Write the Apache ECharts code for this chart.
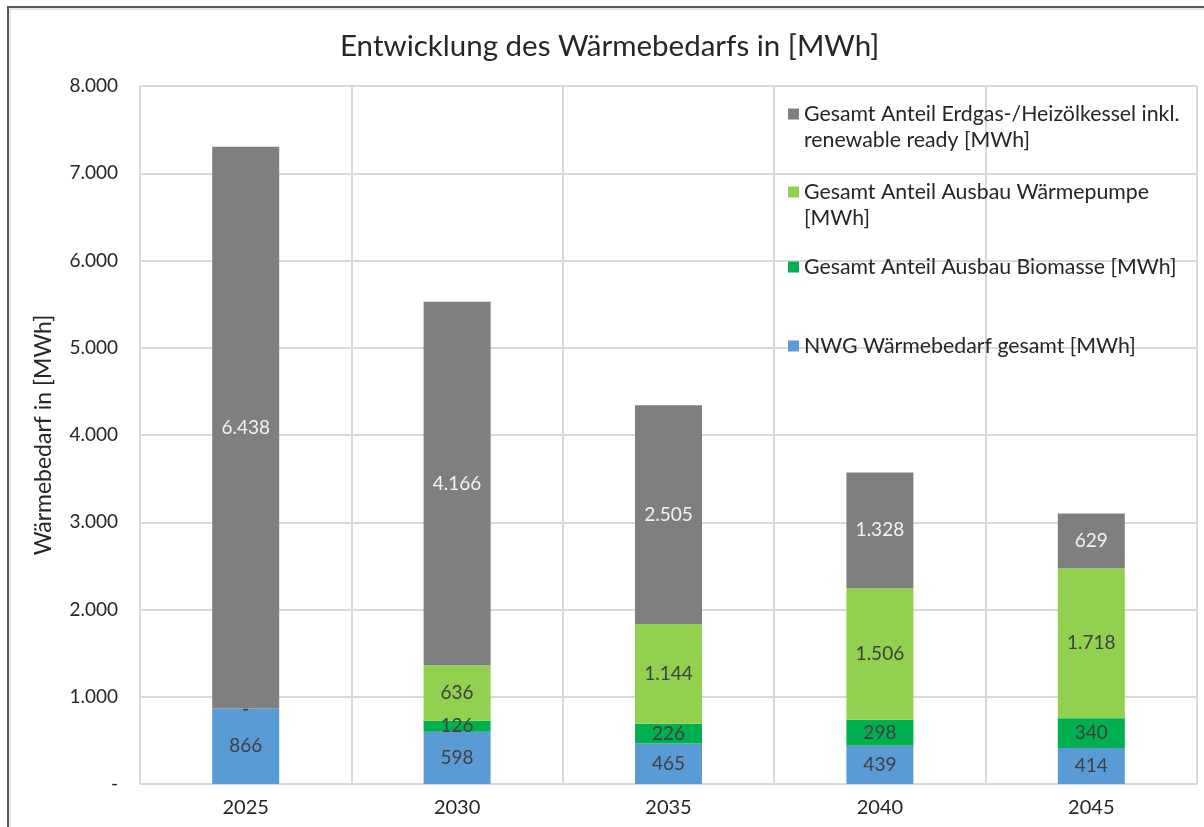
<!DOCTYPE html>
<html>
<head>
<meta charset="utf-8">
<script src="https://cdn.jsdelivr.net/npm/echarts@6/dist/echarts.min.js"></script>
<style>
html,body{margin:0;padding:0;background:#fff;}
#chart{width:1204px;height:827px;}
</style>
</head>
<body>
<div id="chart"></div>
<script>
// Jahre
const years = ['2025', '2030', '2035', '2040', '2045'];

// Wärmebedarf je Kategorie in MWh
const nwgWaermebedarf = [866, 598, 465, 439, 414];
const ausbauBiomasse = [0, 126, 226, 298, 340];
const ausbauWaermepumpe = [0, 636, 1144, 1506, 1718];
const erdgasHeizoel = [6438, 4166, 2505, 1328, 629];

const seriesNames = [
  'NWG Wärmebedarf gesamt [MWh]',
  'Gesamt Anteil Ausbau Biomasse [MWh]',
  'Gesamt Anteil Ausbau Wärmepumpe [MWh]',
  'Gesamt Anteil Erdgas-/Heizölkessel inkl. renewable ready [MWh]'
];
// Legendentexte; zweizeilige Einträge beginnen mit einer Leerzeile,
// damit das Symbol auf Höhe der ersten Textzeile steht
const legendLabels = [
  'NWG Wärmebedarf gesamt [MWh]',
  'Gesamt Anteil Ausbau Biomasse [MWh]',
  ' \nGesamt Anteil Ausbau Wärmepumpe\n[MWh]',
  ' \nGesamt Anteil Erdgas-/Heizölkessel inkl.\nrenewable ready [MWh]'
];
const colors = ['#5b9bd5', '#00b050', '#92d050', '#7f7f7f'];

const FONT = 'Lato';

// deutsches Zahlenformat, Null als Strich
function fmt(v) {
  if (v === 0) return '-';
  return String(v).replace(/\B(?=(\d{3})+(?!\d))/g, '.');
}

function barSeries(name, data, color, labelColor) {
  return {
    name: name,
    type: 'bar',
    stack: 'total',
    data: data,
    barWidth: 67,
    itemStyle: { color: color },
    label: {
      show: true,
      position: 'inside',
      formatter: p => fmt(p.value),
      color: labelColor,
      fontFamily: FONT,
      fontSize: 19
    },
    emphasis: { disabled: true }
  };
}

const LINE = 26;
function legendAt(idx, top) {
  return {
    data: [seriesNames[idx]],
    left: 788,
    top: top,
    padding: 0,
    orient: 'vertical',
    icon: 'rect',
    itemWidth: 11,
    itemHeight: 11,
    itemGap: 0,
    selectedMode: false,
    formatter: n => legendLabels[seriesNames.indexOf(n)],
    textStyle: { fontFamily: FONT, fontSize: 21.3, color: '#262626', lineHeight: LINE }
  };
}

const chart = echarts.init(document.getElementById('chart'), null, { renderer: 'canvas' });
chart.setOption({
  animation: false,
  backgroundColor: '#fff',
  title: {
    text: 'Entwicklung des Wärmebedarfs in [MWh]',
    left: 335,
    top: 26,
    textStyle: { fontFamily: FONT, fontSize: 29.5, fontWeight: 'normal', color: '#262626' }
  },
  grid: { left: 140, right: 7, top: 86, bottom: 43, containLabel: false },
  legend: [
    legendAt(3, 75),
    legendAt(2, 153),
    legendAt(1, 254),
    legendAt(0, 333)
  ],
  xAxis: {
    type: 'category',
    data: years,
    axisLine: { show: false },
    axisTick: { show: false },
    splitLine: { show: true, lineStyle: { color: '#d9d9d9', width: 2 } },
    axisLabel: { fontFamily: FONT, fontSize: 20, color: '#262626', margin: 14 }
  },
  yAxis: {
    type: 'value',
    min: 0,
    max: 8000,
    interval: 1000,
    name: 'Wärmebedarf in [MWh]',
    nameLocation: 'middle',
    nameGap: 85,
    nameTextStyle: { fontFamily: FONT, fontSize: 23, color: '#262626' },
    axisLine: { show: false },
    axisTick: { show: false },
    splitLine: { show: true, lineStyle: { color: '#d9d9d9', width: 2 } },
    axisLabel: { fontFamily: FONT, fontSize: 19, color: '#262626', margin: 22, formatter: v => fmt(v) }
  },
  series: [
    barSeries(seriesNames[0], nwgWaermebedarf, colors[0], '#404040'),
    barSeries(seriesNames[1], ausbauBiomasse, colors[1], '#404040'),
    barSeries(seriesNames[2], ausbauWaermepumpe, colors[2], '#404040'),
    barSeries(seriesNames[3], erdgasHeizoel, colors[3], '#f2f2f2')
  ],
  graphic: [
    // Rahmen des Diagrammbereichs
    { type: 'polyline', silent: true, shape: { points: [[8, 827], [8, 7], [1204, 7]] },
      style: { stroke: '#595959', lineWidth: 2, fill: null } },
    { type: 'polyline', silent: true, shape: { points: [[10, 827], [10, 9], [1204, 9]] },
      style: { stroke: '#d0d0d0', lineWidth: 1, fill: null } }
  ]
});
</script>
</body>
</html>
